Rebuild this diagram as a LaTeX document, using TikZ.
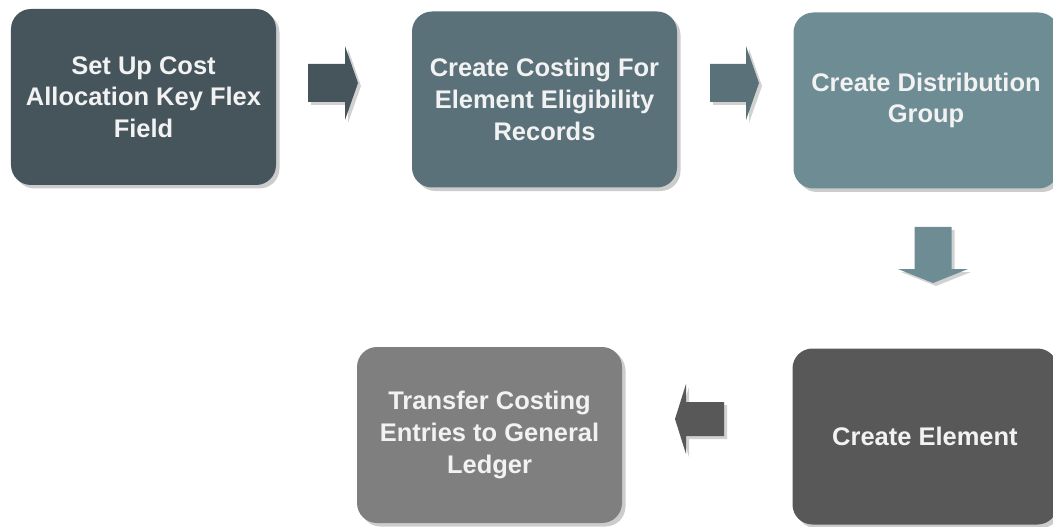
\documentclass[tikz,border=0pt]{standalone}
\usepackage{fontspec}
\setmainfont{Liberation Sans}
\usetikzlibrary{shadows}
\definecolor{stepA}{RGB}{70,84,92}
\definecolor{stepB}{RGB}{90,113,122}
\definecolor{stepC}{RGB}{110,140,148}
\definecolor{stepD}{RGB}{88,88,88}
\definecolor{stepE}{RGB}{127,127,127}
\begin{document}
\begin{tikzpicture}[font=\fontsize{14.5}{18}\selectfont\bfseries,
          stepbox/.style={rounded corners=0.4cm, minimum width=5.3cm, minimum height=3.52cm,
            inner sep=0pt, align=center, text=white!95!black,
            drop shadow={fill=black!40, opacity=0.5, shadow xshift=0.07cm, shadow yshift=-0.07cm}}]
        \useasboundingbox (0,0) rectangle (21.06,-10.54);
        \node[stepbox, fill=stepA] (flex) at (2.87,-1.94) {Set Up Cost\\ Allocation Key Flex\\ Field};
        \node[stepbox, fill=stepB] (elig) at (10.89,-1.99) {Create Costing For\\ Element Eligibility\\ Records};
        \node[stepbox, fill=stepC] (distr) at (18.52,-2.01) {Create Distribution\\ Group};
        \node[stepbox, fill=stepD] (elem) at (18.50,-8.73) {Create Element};
        \node[stepbox, fill=stepE] (ledger) at (9.79,-8.70) {Transfer Costing\\ Entries to General\\ Ledger};
        % block arrows, each with its shadow first
        \foreach \d/\c in {0.06/black!18, 0/stepA}
          \fill[\c, shift={(\d,-\d)}] (6.16,-1.28) -- (6.90,-1.28) -- (6.90,-0.92) -- (7.16,-1.66)
            -- (6.90,-2.40) -- (6.90,-2.04) -- (6.16,-2.04) -- cycle;
        \foreach \d/\c in {0.06/black!18, 0/stepB}
          \fill[\c, shift={(\d,-\d)}] (14.20,-1.28) -- (14.92,-1.28) -- (14.92,-0.92) -- (15.18,-1.66)
            -- (14.92,-2.40) -- (14.92,-2.04) -- (14.20,-2.04) -- cycle;
        \foreach \d/\c in {0.06/black!18, 0/stepC}
          \fill[\c, shift={(\d,-\d)}] (18.29,-4.54) -- (19.03,-4.54) -- (19.03,-5.38) -- (19.36,-5.38)
            -- (18.66,-5.66) -- (17.96,-5.38) -- (18.29,-5.38) -- cycle;
        \foreach \d/\c in {0.06/black!18, 0/stepD}
          \fill[\c, shift={(\d,-\d)}] (14.48,-8.04) -- (13.72,-8.04) -- (13.72,-7.68) -- (13.50,-8.38)
            -- (13.72,-9.08) -- (13.72,-8.72) -- (14.48,-8.72) -- cycle;
      \end{tikzpicture}
\end{document}
